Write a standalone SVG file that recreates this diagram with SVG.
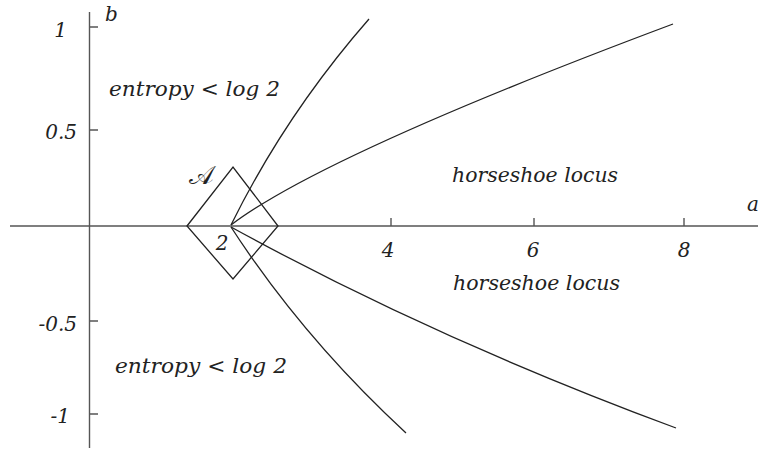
<svg xmlns="http://www.w3.org/2000/svg" width="761" height="451" viewBox="0 0 761 451">
<style>
.ax{stroke:#555;stroke-width:1.4;fill:none}
.cv{stroke:#222;stroke-width:1.3;fill:none}
text{font-family:'DejaVu Serif',serif;font-style:italic;fill:#222}
.t{font-size:21px}
.n{font-size:20px}
</style>
<rect width="761" height="451" fill="#fff"/>
<g id="axes">
<line class="ax" x1="89.5" y1="12" x2="89.5" y2="448"/>
<line class="ax" x1="10" y1="226" x2="758" y2="226"/>
<path class="ax" d="M89.5 27H98M89.5 130H98M89.5 321H98M89.5 414H98M391 226V218M534 226V218M684 226V218"/>
</g>
<g id="tick-labels">
<text class="n" x="67" y="37" text-anchor="end">1</text>
<text class="n" x="77" y="139" text-anchor="end">0.5</text>
<text class="n" x="77" y="331" text-anchor="end">-0.5</text>
<text class="n" x="70" y="423" text-anchor="end">-1</text>
<text class="n" x="222" y="250" text-anchor="middle">2</text>
<text class="n" x="388" y="257" text-anchor="middle">4</text>
<text class="n" x="533" y="257" text-anchor="middle">6</text>
<text class="n" x="684" y="257" text-anchor="middle">8</text>
<text class="n" x="105" y="21">b</text>
<text class="n" x="747" y="211">a</text>
</g>
<g id="diamond">
<path class="cv" d="M187 226L233 167L278 226L233 279Z"/>
<text x="189" y="184" style="font-family:'DejaVu Serif','Noto Sans',serif;font-size:26px;font-style:normal">𝒜</text>
</g>
<g id="connectors">
<path class="cv" d="M231 225Q285.5 114.5 369 19"/>
<path class="cv" d="M231 225Q323 155 673 24"/>
<path class="cv" d="M231 227Q433 338 676 428"/>
<path class="cv" d="M231 227Q303 338 406 433"/>
</g>
<g id="region-labels">
<text class="t" x="109" y="96" textLength="171" lengthAdjust="spacingAndGlyphs">entropy &lt; log 2</text>
<text class="t" x="115" y="373" textLength="172" lengthAdjust="spacingAndGlyphs">entropy &lt; log 2</text>
<text class="t" x="452" y="182" textLength="166" lengthAdjust="spacingAndGlyphs">horseshoe locus</text>
<text class="t" x="453" y="290" textLength="167" lengthAdjust="spacingAndGlyphs">horseshoe locus</text>
</g>
</svg>
